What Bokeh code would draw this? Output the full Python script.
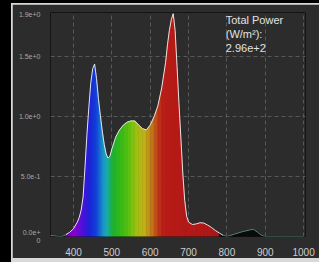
import numpy as np
from bokeh.plotting import figure
from bokeh.models import Range1d, FixedTicker, Label, GlobalInlineStyleSheet
from bokeh.embed import file_html
from bokeh.resources import INLINE

# ---------------- data ----------------
wavelength = [340, 350, 360, 370, 380, 390, 400, 410, 415, 420, 425, 430, 435, 440, 445,
              450, 455, 460, 465, 470, 475, 480, 485, 490, 495, 500, 505, 510, 520, 530,
              540, 550, 560, 570, 580, 590, 600, 610, 620, 630, 640, 645, 650, 655, 660,
              665, 670, 675, 680, 685, 690, 695, 700, 710, 720, 730, 740, 750, 760, 770,
              780, 790, 800, 820, 840, 860, 870, 880, 890, 900, 950, 1000]
irradiance = [0.01, 0.005, 0.0, 0.0, 0.015, 0.035, 0.065, 0.12, 0.16, 0.22, 0.33, 0.58, 0.85, 1.08, 1.28,
              1.40, 1.44, 1.32, 1.15, 1.01, 0.88, 0.77, 0.69, 0.655, 0.67, 0.73, 0.78, 0.83, 0.89, 0.93,
              0.955, 0.965, 0.965, 0.93, 0.90, 0.89, 0.93, 1.00, 1.09, 1.24, 1.45, 1.60, 1.72, 1.81, 1.86,
              1.72, 1.42, 1.11, 0.82, 0.53, 0.30, 0.17, 0.12, 0.10, 0.105, 0.115, 0.112, 0.095, 0.075, 0.05,
              0.03, 0.01, 0.0, 0.02, 0.04, 0.055, 0.06, 0.035, 0.01, 0.0, 0.0, 0.0]

x_ticks = [400, 500, 600, 700, 800, 900, 1000]
x_tick_labels = ["400", "500", "600", "700", "800", "900", "1000"]
y_ticks = [0.0, 0.5, 1.0, 1.5, 1.85]
y_tick_labels = ["0.0e+\n0", "5.0e-1", "1.0e+0", "1.5e+0", "1.9e+0"]
power_text = "Total Power\n(W/m\u00b2):\n2.96e+2"

# ---------------- styling: spectrum colour stops ----------------
stop_nm = [380, 400, 420, 440, 460, 470, 480, 490, 500, 520, 545, 565, 585, 600, 615, 630, 700, 780]
stop_hex = ["#6a00a8", "#8a00d0", "#5a10d8", "#2020e0", "#1040e0", "#1870d8", "#18a0d0", "#18b0a8",
            "#20b040", "#30b818", "#60c010", "#a0c010", "#c0b018", "#c08818", "#c05018", "#b82018",
            "#b81818", "#a81818"]


def hex_rgb(h):
    return [int(h[i:i + 2], 16) for i in (1, 3, 5)]


stop_rgb = np.array([hex_rgb(h) for h in stop_hex], dtype=float)


def spec_color(nm):
    if nm < 378:
        return "#1c1c1c"
    if nm > 782:
        return "#0a0a0a"
    r, g, b = (int(round(np.interp(nm, stop_nm, stop_rgb[:, k]))) for k in range(3))
    return "#%02x%02x%02x" % (r, g, b)


xs, ys, cols = [], [], []
for i in range(len(wavelength) - 1):
    w0, w1 = wavelength[i], wavelength[i + 1]
    v0, v1 = max(irradiance[i], 0), max(irradiance[i + 1], 0)
    xs.append([w0, w0, w1, w1])
    ys.append([0, v0, v1, 0])
    cols.append(spec_color(0.5 * (w0 + w1)))

bg = "#2c2c2c"
p = figure(width=307, height=254, x_range=Range1d(340, 1005), y_range=Range1d(0, 1.87),
           output_backend="svg", toolbar_location=None,
           min_border_left=38, min_border_right=14, min_border_top=8, min_border_bottom=18,
           background_fill_color=bg, border_fill_color=bg, outline_line_color="#141414",
           margin=(4, 0, 0, 12))
p.stylesheets = [GlobalInlineStyleSheet(
    css="body{background: linear-gradient(#d8d8d8, #d8d8d8) 11px 3px / 308px 259px no-repeat, #000;}")]

p.patches(xs=xs, ys=ys, fill_color=cols, line_color=cols, line_width=0.6)

vis = [(w, v) for w, v in zip(wavelength, irradiance) if 380 <= w <= 790]
left = [(w, v) for w, v in zip(wavelength, irradiance) if w <= 380]
right = [(w, v) for w, v in zip(wavelength, irradiance) if w >= 790]
p.line([a for a, _ in left], [b for _, b in left], line_color="#4f8a80", line_width=1)
p.line([a for a, _ in right], [b for _, b in right], line_color="#4f8a80", line_width=1)
p.line([a for a, _ in vis], [b for _, b in vis], line_color="#e4e4e4", line_width=1)

# axes
p.xaxis.ticker = FixedTicker(ticks=x_ticks)
p.xaxis.major_label_overrides = dict(zip(x_ticks, x_tick_labels))
p.yaxis.ticker = FixedTicker(ticks=y_ticks)
p.yaxis.major_label_overrides = dict(zip(y_ticks, y_tick_labels))
for ax in (p.xaxis, p.yaxis):
    ax.axis_line_color = None
    ax.major_tick_line_color = None
    ax.minor_tick_line_color = None
    ax.major_label_text_font = "Liberation Sans"
p.xaxis.major_label_text_font_size = "10px"
p.xaxis.major_label_text_color = "#cccccc"
p.xaxis.major_label_standoff = 5
p.yaxis.major_label_text_font_size = "7px"
p.yaxis.major_label_text_color = "#a8a8a8"
p.yaxis.major_label_standoff = 4

p.xgrid.ticker = FixedTicker(ticks=x_ticks)
p.ygrid.ticker = FixedTicker(ticks=[0.5, 1.0, 1.5])
for g in (p.xgrid, p.ygrid):
    g.grid_line_color = "#585858"
    g.grid_line_dash = "4 3"
    g.grid_line_width = 1

p.add_layout(Label(x=797, y=1.86, text=power_text, text_baseline="top", text_align="left",
                   text_font="Liberation Sans", text_font_size="11px",
                   text_color="#e2e2e2", text_line_height=1.2))

open("out.html", "w").write(file_html(p, INLINE))
